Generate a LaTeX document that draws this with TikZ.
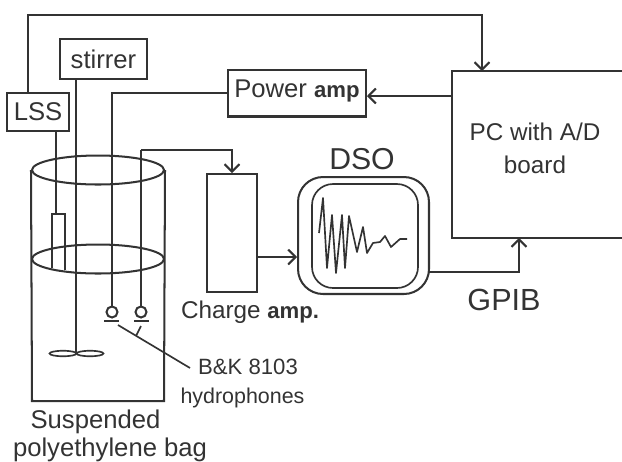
\documentclass[tikz,border=0pt]{standalone}
\usepackage{fontspec}
\setmainfont{Liberation Sans}
\usetikzlibrary{arrows.meta,shapes.geometric}
\definecolor{inkgray}{HTML}{333333}
\newcommand{\bigtext}{\fontsize{14.6}{17}\selectfont}
\newcommand{\midtext}{\fontsize{13.8}{18.7}\selectfont}
\newcommand{\amptext}{\fontsize{12.6}{15}\selectfont}
\tikzset{
  line/.style={draw=inkgray,line width=1.15pt},
  arr/.style={line,-{Straight Barb[length=4.2pt,width=8.5pt,line width=1.15pt]}},
  thin line/.style={draw=inkgray,line width=0.95pt},
  box/.style={line,rectangle,inner sep=0pt},
  rim/.style={line,ellipse,inner sep=0pt,minimum width=2.64cm,minimum height=0.58cm},
  phone/.style={line,circle,inner sep=0pt,minimum size=0.22cm},
  lab/.style={text=inkgray,inner sep=0pt,align=center}
}
\tikzstyle{every node}=[font=\bigtext]

\begin{document}
\begin{tikzpicture}[x=0.02cm,y=-0.02cm]
    \useasboundingbox (0,0) rectangle (622,461);
    % boxes
    \node[box,minimum width=1.74cm,minimum height=0.8cm,text=inkgray] (Stirrer) at (103.5,59) {stirrer};
    \node[box,minimum width=1.24cm,minimum height=0.76cm,text=inkgray] (LSS) at (38,112) {LSS};
    \node[box,minimum width=2.76cm,minimum height=0.94cm] (Power) at (297,93) {};
    \node[lab] (PowerText) at (297,91) {Power \textbf{\amptext amp}};
    \node[box,minimum width=1cm,minimum height=2.36cm] (Charge) at (232,233) {};
    \node[lab,font=\midtext] (ChargeText) at (250,312) {Charge \textbf{\amptext amp.}};
    \node[box,rounded corners=0.5cm,minimum width=2.62cm,minimum height=2.34cm] (DSO) at (363.5,235.5) {};
    \node[box,rounded corners=0.42cm,minimum width=2.12cm,minimum height=2.08cm,thin line] (Screen) at (365,236) {};
    \node[lab,font=\fontsize{17.2}{20}\selectfont] (DSOText) at (362,159) {DSO};
    \node[lab,font=\fontsize{17.4}{20}\selectfont] (GPIB) at (504,300) {GPIB};
    \node[lab,font=\midtext] (PCText) at (535,148) {PC with A/D\\board};
    \node[lab,font=\fontsize{12.6}{15}\selectfont] (HydroA) at (248,367) {B\&K 8103};
    \node[lab,font=\fontsize{12.2}{15}\selectfont] (HydroB) at (242.5,398) {hydrophones};
    \node[lab] (BagA) at (95.5,422) {Suspended};
    \node[lab] (BagB) at (110,450) {polyethylene bag};
    % PC board runs off the right edge
    \coordinate (PCtr) at (622,71);
    \coordinate (PCtl) at (452,71);
    \coordinate (PCbl) at (452,238);
    \coordinate (PCbr) at (622,238);
    \draw[line] (PCtr) -- (PCtl) -- (PCbl) -- (PCbr);
    % suspended bag
    \node[rim] (RimTop) at (98,170) {};
    \node[rim] (RimLow) at (98,259) {};
    \coordinate (BagBL) at (32,401);
    \coordinate (BagBR) at (164,401);
    \draw[line] (RimTop.west) -- (BagBL) -- (BagBR) -- (RimTop.east);
    % tube under the LSS
    \coordinate (TubeTL) at (52,214);
    \coordinate (TubeTR) at (65,214);
    \coordinate (TubeBL) at (52,268);
    \coordinate (TubeBR) at (65,270);
    \draw[line] (TubeBL) -- (TubeTL) -- (TubeTR) -- (TubeBR);
    \coordinate (LSSout) at (56,131);
    \coordinate (TubeIn) at (56,214);
    \draw[line] (LSSout) -- (TubeIn);
    % stirrer and blades
    \node[ellipse,inner sep=0pt,minimum width=0.54cm,minimum height=0.11cm,thin line] (BladeL) at (63,353.5) {};
    \node[ellipse,inner sep=0pt,minimum width=0.54cm,minimum height=0.11cm,thin line] (BladeR) at (90,353.5) {};
    \coordinate (StirOut) at (76,79);
    \coordinate (StirEnd) at (76,354);
    \draw[line] (StirOut) -- (StirEnd);
    % hydrophones
    \node[phone] (PhoneA) at (112,312) {};
    \node[phone] (PhoneB) at (141,312) {};
    \coordinate (BaseAl) at (104,321);
    \coordinate (BaseAr) at (119,321);
    \coordinate (BaseBl) at (134,321);
    \coordinate (BaseBr) at (149,321);
    \draw[line] (BaseAl) -- (BaseAr);
    \draw[line] (BaseBl) -- (BaseBr);
    \coordinate (LeadS) at (118,325);
    \coordinate (LeadE) at (190,368);
    \coordinate (TickS) at (141,326);
    \coordinate (TickE) at (136,336);
    \draw[thin line] (LeadS) -- (LeadE);
    \draw[thin line] (TickS) -- (TickE);
    % connectors
    \coordinate (LSSup) at (28,93);
    \coordinate (TopL) at (28,15);
    \coordinate (PCin) at (482,71);
    \draw[arr] (LSSup) -- (TopL) -| (PCin);
    \coordinate (PCout) at (452,96);
    \draw[arr] (PCout) -- (Power.east |- PCout);
    \draw[line] (Power.west) -| (PhoneA.north);
    \coordinate (SigCorner) at (141,150);
    \coordinate (ChargeIn) at (232,150);
    \draw[line] (PhoneB.north) -- (SigCorner);
    \draw[arr] (SigCorner) -- (ChargeIn) -- (Charge.north);
    \coordinate (ChargeOut) at (257,257);
    \draw[arr] (ChargeOut) -- (DSO.west |- ChargeOut);
    \coordinate (DSOout) at (429,272);
    \coordinate (PCgp) at (519,238);
    \draw[arr] (DSOout) -| (PCgp);
    % trace on the screen
    \draw[thin line,line join=round] (319,233) -- (323,198) -- (327,268) -- (332,215) -- (336,273) -- (342,215) -- (345,268) -- (349,216) -- (357,252) -- (363,227) -- (367,253) -- (373,243) -- (380,242) -- (385,236) -- (391,247) -- (400,239) -- (407,239);
\end{tikzpicture}
\end{document}
